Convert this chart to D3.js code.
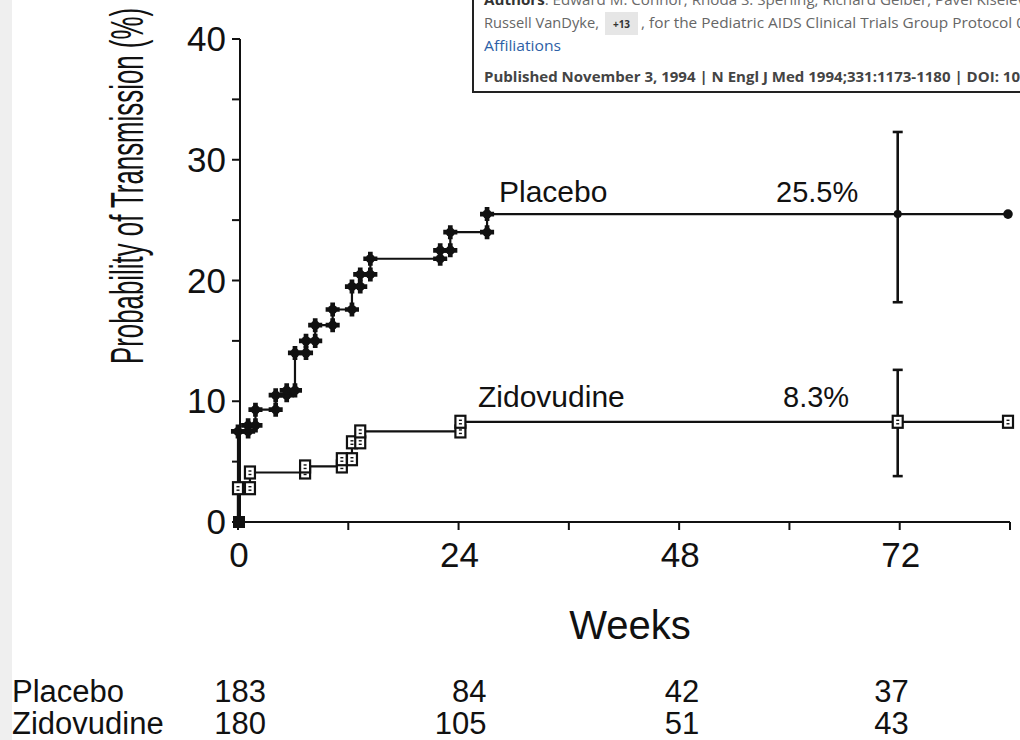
<!DOCTYPE html>
<html>
<head>
<meta charset="utf-8">
<script src="https://cdn.jsdelivr.net/npm/d3@7/dist/d3.min.js"></script>
<style>
  html, body { margin: 0; padding: 0; background: #ffffff; }
  svg { display: block; }
</style>
</head>
<body>
<svg id="chart" width="1020" height="740"></svg>
<script>
// ---------------- DATA ----------------
const seriesNames = ["Placebo", "Zidovudine"];
// Kaplan-Meier step events: [week, cumulative probability %]
const placeboSteps = [[0, 7.5], [1.1, 8.0], [1.9, 9.3], [4.1, 10.5], [5.3, 10.9], [6.2, 14.0],
  [7.4, 15.0], [8.4, 16.3], [10.3, 17.6], [12.4, 19.5], [13.3, 20.5], [14.4, 21.8],
  [22.0, 22.5], [23.1, 24.0], [27.1, 25.5]];
const zidovudineSteps = [[0, 2.8], [1.3, 4.1], [7.3, 4.6], [11.3, 5.2], [12.4, 6.6],
  [13.3, 7.5], [24.2, 8.3]];
const finalWeek = 84;
const finalLabels = ["25.5%", "8.3%"];
// 95% CI at week 72: [week, low, mid, high]
const placeboCI = [72, 18.2, 25.5, 32.3];
const zidovudineCI = [72, 3.8, 8.3, 12.6];
const xTicks = [0, 12, 24, 36, 48, 60, 72, 84];
const xTickLabels = [0, 24, 48, 72];
const yTicks = [0, 5, 10, 15, 20, 25, 30, 35, 40];
const yTickLabels = [0, 10, 20, 30, 40];
const riskWeeks = [0, 24, 48, 72];
const placeboAtRisk = [183, 84, 42, 37];
const zidovudineAtRisk = [180, 105, 51, 43];
const yTitle = "Probability of Transmission (%)";
const xTitle = "Weeks";

// ---------------- LAYOUT ----------------
const svg = d3.select("#chart");
const x = d3.scaleLinear().domain([0, 84]).range([238, 1010]);
const y = d3.scaleLinear().domain([0, 40]).range([522, 39]);
const axisFont = "'Liberation Sans', Arial, Helvetica, sans-serif";

// left gray page strip
svg.append("rect").attr("x", 0).attr("y", 0).attr("width", 12).attr("height", 740).attr("fill", "#efefef");

// Y axis
const yAxisX = 240;
svg.append("line").attr("x1", yAxisX).attr("x2", yAxisX).attr("y1", y(40)).attr("y2", y(0))
  .attr("stroke", "#111").attr("stroke-width", 2);
svg.selectAll(".ytick").data(yTicks).enter().append("line")
  .attr("x1", yAxisX - 8).attr("x2", yAxisX).attr("y1", d => y(d)).attr("y2", d => y(d))
  .attr("stroke", "#111").attr("stroke-width", 2);
svg.selectAll(".ylab").data(yTickLabels).enter().append("text")
  .attr("x", 226).attr("y", d => y(d) + 12)
  .attr("text-anchor", "end").attr("font-family", axisFont).attr("font-size", 35).attr("fill", "#111")
  .text(d => d);

// Y title
svg.append("text")
  .attr("transform", "translate(143,186) rotate(-90)")
  .attr("text-anchor", "middle").attr("font-family", axisFont).attr("font-size", 46).attr("fill", "#111")
  .attr("textLength", 356).attr("lengthAdjust", "spacingAndGlyphs")
  .text(yTitle);

// X axis
svg.append("line").attr("x1", x(0)).attr("x2", x(84)).attr("y1", y(0)).attr("y2", y(0))
  .attr("stroke", "#111").attr("stroke-width", 2);
svg.selectAll(".xtick").data(xTicks).enter().append("line")
  .attr("x1", d => x(d)).attr("x2", d => x(d)).attr("y1", y(0)).attr("y2", y(0) + 8)
  .attr("stroke", "#111").attr("stroke-width", 2);
svg.selectAll(".xlab").data(xTickLabels).enter().append("text")
  .attr("x", d => x(d) + 1).attr("y", y(0) + 45)
  .attr("text-anchor", "middle").attr("font-family", axisFont).attr("font-size", 35).attr("fill", "#111")
  .text(d => d);
svg.append("text").attr("x", 630).attr("y", 639).attr("text-anchor", "middle")
  .attr("font-family", axisFont).attr("font-size", 40).attr("fill", "#111").text(xTitle);

// ---------------- CURVES ----------------
const line = d3.line().x(d => x(d[0])).y(d => y(d[1])).curve(d3.curveStepAfter);
function pathData(steps) {
  return [[0, 0]].concat(steps).concat([[finalWeek, steps[steps.length - 1][1]]]);
}
function markerPoints(steps) {
  const pts = [];
  steps.forEach((s, i) => {
    const prev = i === 0 ? 0 : steps[i - 1][1];
    if (i > 0) pts.push([s[0], prev]);
    pts.push([s[0], s[1]]);
  });
  return pts;
}
[placeboSteps, zidovudineSteps].forEach(steps => {
  svg.append("path").attr("d", line(pathData(steps))).attr("fill", "none")
    .attr("stroke", "#111").attr("stroke-width", 2.2);
});

// CI bars
function ciBar(ci) {
  const g = svg.append("g");
  const cx = x(ci[0]) - 2;
  g.append("line").attr("x1", cx).attr("x2", cx).attr("y1", y(ci[1])).attr("y2", y(ci[3]))
    .attr("stroke", "#111").attr("stroke-width", 2.6);
  [ci[1], ci[3]].forEach(v => g.append("line").attr("x1", cx - 5).attr("x2", cx + 5)
    .attr("y1", y(v)).attr("y2", y(v)).attr("stroke", "#111").attr("stroke-width", 2.6));
}
ciBar(placeboCI);
ciBar(zidovudineCI);

// Placebo markers (filled plus-diamond)
const crossPath = d3.symbol().type(d3.symbolCross).size(110)();
const plMarkers = markerPoints(placeboSteps);
svg.selectAll(".pm").data(plMarkers).enter().append("g")
  .attr("transform", d => `translate(${x(d[0])},${y(d[1])})`)
  .each(function () {
    d3.select(this).append("path").attr("d", crossPath).attr("fill", "#111");
    d3.select(this).append("circle").attr("r", 4.6).attr("fill", "#111");
  });
// CI-point and final placebo point
svg.append("circle").attr("cx", x(placeboCI[0]) - 2).attr("cy", y(placeboCI[2])).attr("r", 4).attr("fill", "#111");
svg.append("circle").attr("cx", x(finalWeek) - 2).attr("cy", y(placeboSteps[placeboSteps.length - 1][1]))
  .attr("r", 4.8).attr("fill", "#111");

// Zidovudine markers (open squares)
const zdMarkers = markerPoints(zidovudineSteps).concat([[zidovudineCI[0], zidovudineCI[2]], [finalWeek, zidovudineSteps[zidovudineSteps.length - 1][1]]]);
svg.selectAll(".zm").data(zdMarkers).enter().append("g")
  .attr("transform", d => `translate(${x(d[0]) + (d[0] >= 72 ? -2 : 0)},${y(d[1])})`)
  .each(function () {
    const g = d3.select(this);
    g.append("rect").attr("x", -5).attr("y", -6).attr("width", 10).attr("height", 12)
      .attr("fill", "#fff").attr("stroke", "#111").attr("stroke-width", 2.2);
    g.append("line").attr("x1", -1.5).attr("x2", 1.5).attr("y1", -1.5).attr("y2", -1.5)
      .attr("stroke", "#111").attr("stroke-width", 1.4);
    g.append("line").attr("x1", -1.5).attr("x2", 1.5).attr("y1", 2).attr("y2", 2)
      .attr("stroke", "#111").attr("stroke-width", 1.4);
  });

// origin marker
svg.append("rect").attr("x", x(0) - 5).attr("y", y(0) - 6).attr("width", 12).attr("height", 12).attr("fill", "#111");

// Series labels
svg.append("text").attr("x", 499).attr("y", 202).attr("font-family", axisFont).attr("font-size", 30)
  .attr("fill", "#111").text(seriesNames[0]);
svg.append("text").attr("x", 776).attr("y", 202).attr("font-family", axisFont).attr("font-size", 29)
  .attr("fill", "#111").text(finalLabels[0]);
svg.append("text").attr("x", 478).attr("y", 407).attr("font-family", axisFont).attr("font-size", 30)
  .attr("fill", "#111").text(seriesNames[1]);
svg.append("text").attr("x", 783).attr("y", 407).attr("font-family", axisFont).attr("font-size", 29)
  .attr("fill", "#111").text(finalLabels[1]);

// ---------------- AT RISK TABLE ----------------
const riskOffsets = [28, 28, 20, 9];
[[placeboAtRisk, 702], [zidovudineAtRisk, 734]].forEach((row, r) => {
  svg.append("text").attr("x", 12).attr("y", row[1]).attr("font-family", axisFont).attr("font-size", 31)
    .attr("fill", "#111").text(seriesNames[r]);
  svg.selectAll(null).data(row[0]).enter().append("text")
    .attr("x", (d, i) => x(riskWeeks[i]) + riskOffsets[i]).attr("y", row[1])
    .attr("text-anchor", "end").attr("font-family", axisFont).attr("font-size", 31).attr("fill", "#111")
    .text(d => d);
});

// ---------------- OVERLAY CITATION BOX ----------------
const boxFont = "'Open Sans', 'Noto Sans', sans-serif";
const box = svg.append("g");
box.append("rect").attr("x", 473).attr("y", -10).attr("width", 560).attr("height", 102)
  .attr("fill", "#fff").attr("stroke", "#222").attr("stroke-width", 2);
const l1 = box.append("text").attr("x", 484).attr("y", 5).attr("font-family", boxFont).attr("font-size", 15)
  .attr("fill", "#6a6a6a").attr("textLength", 545).attr("lengthAdjust", "spacingAndGlyphs");
l1.append("tspan").attr("font-weight", "bold").attr("fill", "#333").text("Authors");
l1.append("tspan").text(": Edward M. Connor, Rhoda S. Sperling, Richard Gelber, Pavel Kiselev,");
box.append("text").attr("x", 484).attr("y", 28).attr("font-family", boxFont).attr("font-size", 15)
  .attr("fill", "#666").attr("textLength", 115).attr("lengthAdjust", "spacingAndGlyphs").text("Russell VanDyke,");
box.append("rect").attr("x", 605).attr("y", 12).attr("width", 33).attr("height", 23).attr("fill", "#e6e6e6");
box.append("text").attr("x", 621.5).attr("y", 27.5).attr("text-anchor", "middle").attr("font-family", boxFont)
  .attr("font-size", 10).attr("font-weight", "bold").attr("fill", "#333").text("+13");
box.append("text").attr("x", 641).attr("y", 28).attr("font-family", boxFont).attr("font-size", 15)
  .attr("fill", "#666").attr("textLength", 384).attr("lengthAdjust", "spacingAndGlyphs")
  .text(", for the Pediatric AIDS Clinical Trials Group Protocol 0");
box.append("text").attr("x", 484).attr("y", 51).attr("font-family", boxFont).attr("font-size", 15)
  .attr("fill", "#2d5fa6").attr("textLength", 77).attr("lengthAdjust", "spacingAndGlyphs").text("Affiliations");
box.append("text").attr("x", 484).attr("y", 82).attr("font-family", boxFont).attr("font-size", 15)
  .attr("font-weight", "bold").attr("fill", "#444").attr("textLength", 536).attr("lengthAdjust", "spacingAndGlyphs")
  .text("Published November 3, 1994 | N Engl J Med 1994;331:1173-1180 | DOI: 10");
</script>
</body>
</html>
